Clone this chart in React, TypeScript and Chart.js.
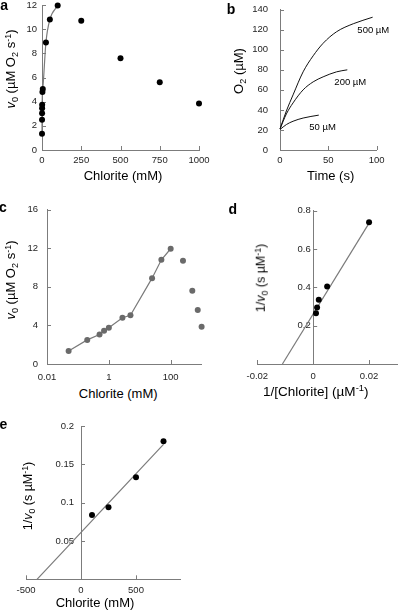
import React, { useEffect, useRef } from 'react';
import { Chart, registerables } from 'chart.js';

Chart.register(...registerables);

const FONT = "'Liberation Sans', Arial, Helvetica, sans-serif";
Chart.defaults.font.family = FONT;

const AXIS = '#7c7c7c';
const FIT = '#7a7a7a';
const TICK = '#1e1e1e';

// ---- Panel a & c: initial rate vs chlorite (mM) ----
const chloriteMM = [0.05, 0.2, 0.5, 0.7, 1, 2.75, 5, 25, 50, 100, 250, 500, 750, 1000];
const v0 = [1.35, 2.5, 3.05, 3.45, 3.75, 4.8, 5.05, 8.9, 10.8, 11.95, 10.7, 7.6, 5.6, 3.85];
const fitChloriteMM = [0.05, 0.2, 0.5, 0.7, 1, 2.75, 5, 25, 50, 100];
const fitV0 = [1.35, 2.5, 3.05, 3.45, 3.75, 4.8, 5.05, 8.9, 10.8, 11.95];

const aTicksX = [0, 250, 500, 750, 1000];
const aLabelsX = ['0', '250', '500', '750', '1000'];
const aTicksY = [0, 2, 4, 6, 8, 10, 12];
const aLabelsY = ['0', '2', '4', '6', '8', '10', '12'];

const cTicksX = [0.01, 1, 100];
const cLabelsX = ['0.01', '1', '100'];
const cTicksY = [0, 4, 8, 12, 16];
const cLabelsY = ['0', '4', '8', '12', '16'];

// ---- Panel b: O2 traces ----
const time500 = [0, 6.6, 13.5, 23.9, 34.3, 44.6, 58.5, 75.8, 95.8];
const o2_500 = [21, 39, 55, 78, 94, 106.5, 118, 126, 132.5];
const time200 = [0, 6.6, 13.5, 23.9, 34.3, 44.6, 58.5, 69.6];
const o2_200 = [21, 36, 47, 60, 68, 73, 78, 80];
const time50 = [0, 6.6, 13.5, 23.9, 40.1];
const o2_50 = [20.5, 25.4, 28.7, 31.9, 34.8];
const curveLabels = ['500 µM', '200 µM', '50 µM'];

const bTicksX = [0, 50, 100];
const bLabelsX = ['0', '50', '100'];
const bTicksY = [0, 20, 40, 60, 80, 100, 120, 140];
const bLabelsY = ['0', '20', '40', '60', '80', '100', '120', '140'];

// ---- Panel d: double reciprocal ----
const invChlorite = [0.02, 0.005, 0.002, 0.0014, 0.001];
const invV0 = [0.74, 0.405, 0.335, 0.295, 0.265];
const dFitX = [-0.011, 0.02];
const dFitY = [0, 0.735];
const dTicksX = [-0.02, 0, 0.02];
const dLabelsX = ['-0.02', '0', '0.02'];
const dTicksY = [0.2, 0.4, 0.6, 0.8];
const dLabelsY = ['0.2', '0.4', '0.6', '0.8'];

// ---- Panel e: Dixon-type plot ----
const eChlorite = [100, 250, 500, 750];
const eInvV0 = [0.084, 0.094, 0.133, 0.18];
const eFitX = [-400, 750];
const eFitY = [0, 0.176];
const eTicksX = [-500, 0, 500];
const eLabelsX = ['-500', '0', '500'];
const eTicksY = [0.05, 0.1, 0.15, 0.2];
const eLabelsY = ['0.05', '0.1', '0.15', '0.2'];

const zip = (xs: number[], ys: number[]) => xs.map((x, i) => ({ x, y: ys[i] }));

const pts = (xs: number[], ys: number[], color: string) => ({
  data: zip(xs, ys),
  showLine: false,
  pointRadius: 3,
  pointHoverRadius: 3,
  pointBorderWidth: 0,
  borderWidth: 0,
  backgroundColor: color,
  borderColor: color,
  clip: false,
});

const line = (xs: number[], ys: number[], color: string, width: number, smooth = false) => ({
  data: zip(xs, ys),
  showLine: true,
  pointRadius: 0,
  pointHoverRadius: 0,
  borderColor: color,
  backgroundColor: color,
  borderWidth: width,
  fill: false,
  tension: smooth ? 0.4 : 0,
  cubicInterpolationMode: smooth ? 'monotone' : 'default',
  clip: false,
});

const axisDecor = {
  id: 'axisDecor',
  beforeDraw(chart: any, _a: any, o: any) {
    if (o.yLabelShift) {
      const ys = chart.scales.y;
      const items = ys.getLabelItems(chart.chartArea);
      if (!items._shifted) {
        items.forEach((it: any) => {
          it.options.translation[0] -= o.yLabelShift;
        });
        items._shifted = true;
      }
    }
  },
  beforeDatasetsDraw(chart: any, _a: any, o: any) {
    const { ctx, chartArea } = chart;
    const xs = chart.scales.x;
    const ys = chart.scales.y;
    const len = o.len;
    const yAxisX = o.yAtX !== undefined && o.yAtX !== null ? xs.getPixelForValue(o.yAtX) : chartArea.left;
    const xAxisY = chartArea.bottom;
    ctx.save();
    ctx.strokeStyle = o.color;
    ctx.lineWidth = 1;
    ctx.beginPath();
    for (const t of xs.ticks) {
      const px = Math.round(xs.getPixelForValue(t.value)) + 0.5;
      ctx.moveTo(px, xAxisY);
      ctx.lineTo(px, xAxisY - len);
    }
    for (const t of ys.ticks) {
      const py = Math.round(ys.getPixelForValue(t.value)) + 0.5;
      ctx.moveTo(yAxisX, py);
      ctx.lineTo(yAxisX + len, py);
    }
    ctx.stroke();
    ctx.restore();
  },
};

type AxisSpec = {
  type?: 'linear' | 'logarithmic';
  min: number;
  max: number;
  ticks: number[];
  labels: string[];
  pad: number;
};

type PanelSpec = {
  datasets: any[];
  x: AxisSpec;
  y: AxisSpec;
  pad: [number, number, number];
  wy: number;
  hx: number;
  yAtX?: number;
  yLabelShift?: number;
};

function buildConfig(p: PanelSpec): any {
  const mkScale = (a: AxisSpec, isX: boolean) => ({
    type: a.type || 'linear',
    min: a.min,
    max: a.max,
    position: isX ? 'bottom' : p.yAtX !== undefined ? { x: p.yAtX } : 'left',
    grid: { display: false, drawTicks: false },
    border: { display: true, color: AXIS, width: 1 },
    ticks: {
      font: { family: FONT, size: 9.5 },
      color: TICK,
      padding: a.pad,
      maxRotation: 0,
      minRotation: 0,
      autoSkip: false,
      callback: (_v: any, i: number) => a.labels[i],
    },
    afterBuildTicks: (s: any) => {
      s.ticks = a.ticks.map((value) => ({ value }));
    },
    afterFit: (s: any) => {
      if (isX) s.height = p.hx;
      else if (p.yAtX === undefined) s.width = p.wy;
    },
  });
  return {
    type: 'scatter',
    data: { datasets: p.datasets },
    options: {
      animation: false,
      responsive: false,
      maintainAspectRatio: false,
      events: [],
      layout: { padding: { left: p.pad[0], top: p.pad[1], right: p.pad[2], bottom: 0 } },
      scales: { x: mkScale(p.x, true), y: mkScale(p.y, false) },
      plugins: {
        legend: { display: false },
        tooltip: { enabled: false },
        axisDecor: { len: 4, color: AXIS, yAtX: p.yAtX, yLabelShift: p.yLabelShift || 0 },
      },
    },
    plugins: [axisDecor],
  };
}

const makeA = () =>
  buildConfig({
    datasets: [pts(chloriteMM, v0, '#000000'), line(fitChloriteMM, fitV0, FIT, 1.2, true)],
    x: { min: 0, max: 1000, ticks: aTicksX, labels: aLabelsX, pad: 5 },
    y: { min: 0, max: 12, ticks: aTicksY, labels: aLabelsY, pad: 5 },
    pad: [0, 15, 16],
    wy: 40,
    hx: 20,
  });

const makeB = () =>
  buildConfig({
    datasets: [
      line(time500, o2_500, '#111111', 1, true),
      line(time200, o2_200, '#111111', 1, true),
      line(time50, o2_50, '#111111', 1, true),
    ],
    x: { min: 0, max: 100, ticks: bTicksX, labels: bLabelsX, pad: 5 },
    y: { min: 0, max: 140, ticks: bTicksY, labels: bLabelsY, pad: 12 },
    pad: [0, 14.7, 23.3],
    wy: 40,
    hx: 20,
  });

const makeC = () =>
  buildConfig({
    datasets: [pts(chloriteMM, v0, '#6a6a6a'), line(fitChloriteMM, fitV0, FIT, 1.2)],
    x: { type: 'logarithmic', min: 0.01, max: 1000, ticks: cTicksX, labels: cLabelsX, pad: 7.5 },
    y: { min: 0, max: 16, ticks: cTicksY, labels: cLabelsY, pad: 9 },
    pad: [0, 14.3, 13.4],
    wy: 40,
    hx: 20,
  });

const makeD = () =>
  buildConfig({
    datasets: [pts(invChlorite, invV0, '#000000'), line(dFitX, dFitY, FIT, 1.2)],
    x: { min: -0.02, max: 0.03, ticks: dTicksX, labels: dLabelsX, pad: 7 },
    y: { min: 0, max: 0.8, ticks: dTicksY, labels: dLabelsY, pad: 0 },
    pad: [21.3, 14.7, 0],
    wy: 0,
    hx: 20,
    yAtX: 0,
    yLabelShift: 2.5,
  });

const makeE = () =>
  buildConfig({
    datasets: [pts(eChlorite, eInvV0, '#000000'), line(eFitX, eFitY, FIT, 1.2)],
    x: { min: -500, max: 900, ticks: eTicksX, labels: eLabelsX, pad: 5 },
    y: { min: 0, max: 0.2, ticks: eTicksY, labels: eLabelsY, pad: 0 },
    pad: [22, 15, 15],
    wy: 0,
    hx: 19.7,
    yAtX: 0,
    yLabelShift: 7,
  });

function ChartPanel({ left, top, width, height, make }: { left: number; top: number; width: number; height: number; make: () => any }) {
  const ref = useRef<HTMLCanvasElement>(null);
  useEffect(() => {
    if (!ref.current) return;
    const chart = new Chart(ref.current, make());
    return () => chart.destroy();
  }, []);
  return (
    <canvas
      ref={ref}
      width={width}
      height={height}
      style={{ position: 'absolute', left, top, width, height, display: 'block' }}
    />
  );
}

function Txt({ x, y, rot, size = 13, bold, children }: { x: number; y: number; rot?: boolean; size?: number; bold?: boolean; children: any }) {
  return (
    <div
      style={{
        position: 'absolute',
        left: x,
        top: y,
        transform: `translate(-50%, -50%)${rot ? ' rotate(-90deg)' : ''}`,
        whiteSpace: 'nowrap',
        fontFamily: FONT,
        fontSize: size,
        fontWeight: bold ? 700 : 400,
        lineHeight: 1,
        color: '#000',
      }}
    >
      {children}
    </div>
  );
}

const Sub = ({ children }: { children: any }) => (
  <span style={{ fontSize: '0.7em', position: 'relative', top: '0.3em' }}>{children}</span>
);
const Sup = ({ children }: { children: any }) => (
  <span style={{ fontSize: '0.7em', position: 'relative', top: '-0.45em' }}>{children}</span>
);

const V0Title = () => (
  <>
    <i>v</i>
    <Sub>0</Sub> (µM O<Sub>2</Sub> s<Sup>-1</Sup>)
  </>
);
const InvV0Title = () => (
  <>
    1/<i>v</i>
    <Sub>0</Sub> (s µM<Sup>-1</Sup>)
  </>
);

export default function App() {
  return (
    <div style={{ position: 'absolute', left: 0, top: 0, width: 400, height: 610, overflow: 'hidden', background: '#fff' }}>
      <ChartPanel left={2} top={-10} width={213} height={180} make={makeA} />
      <ChartPanel left={240} top={-8} width={160} height={178} make={makeB} />
      <ChartPanel left={7} top={195} width={208} height={189} make={makeC} />
      <ChartPanel left={236} top={196} width={164} height={188} make={makeD} />
      <ChartPanel left={4} top={411} width={191} height={188} make={makeE} />

      {/* panel letters */}
      <Txt x={4.2} y={5.2} size={14} bold>a</Txt>
      <Txt x={231} y={8.5} size={14} bold>b</Txt>
      <Txt x={3} y={206.9} size={14} bold>c</Txt>
      <Txt x={232.7} y={208.5} size={14} bold>d</Txt>
      <Txt x={3.5} y={423.5} size={14} bold>e</Txt>

      {/* axis titles */}
      <Txt x={10.7} y={69} rot>
        <V0Title />
      </Txt>
      <Txt x={123} y={174.7}>Chlorite (mM)</Txt>

      <Txt x={238.8} y={70.8} rot>
        O<Sub>2</Sub> (µM)
      </Txt>
      <Txt x={330.7} y={174.7}>Time (s)</Txt>
      <Txt x={373.3} y={29.7} size={9.5}>{curveLabels[0]}</Txt>
      <Txt x={350.3} y={82.2} size={9.5}>{curveLabels[1]}</Txt>
      <Txt x={322.5} y={126.7} size={9.5}>{curveLabels[2]}</Txt>

      <Txt x={11.3} y={280} rot>
        <V0Title />
      </Txt>
      <Txt x={118.2} y={393.3}>Chlorite (mM)</Txt>

      <Txt x={261.3} y={277.5} rot size={12.5}>
        <InvV0Title />
      </Txt>
      <Txt x={315.8} y={391.7} size={13.5}>
        1/[Chlorite] (µM<Sup>-1</Sup>)
      </Txt>

      <Txt x={28} y={495.8} rot size={12.5}>
        <InvV0Title />
      </Txt>
      <Txt x={95} y={602} size={13}>Chlorite (mM)</Txt>
    </div>
  );
}
